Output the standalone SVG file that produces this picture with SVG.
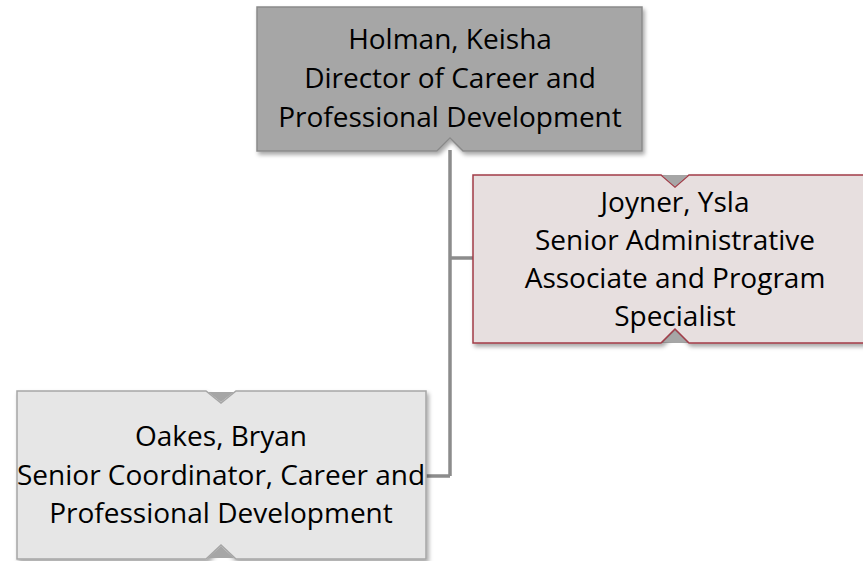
<svg xmlns="http://www.w3.org/2000/svg" width="863" height="561" viewBox="0 0 863 561">
<defs>
<filter id="sh" x="-5%" y="-5%" width="115%" height="120%">
<feDropShadow dx="2" dy="3" stdDeviation="2" flood-color="#000" flood-opacity="0.35"/>
</filter>
<style>
text{font-family:"Open Sans","Liberation Sans",sans-serif;font-size:28px;fill:#000;text-anchor:middle}
.conn{stroke:#8c8c8c;stroke-width:3.5;fill:none}
.notch{fill:#a6a6a6;stroke:none}
</style>
</defs>
<rect width="863" height="561" fill="#fff"/>
<g id="connectors">
<path class="conn" d="M450,150 V476 M450,258 H474 M450,476 H426"/>
</g>
<g id="holman">
<path filter="url(#sh)" d="M257,7 H642 V151 H463 L450,138 L437,151 H257 Z" fill="#a6a6a6" stroke="#8a8a8a" stroke-width="1.5"/>
<text x="450" y="48.5">Holman, Keisha</text>
<text x="450" y="87.5">Director of Career and</text>
<text x="450" y="126.5">Professional Development</text>
</g>
<g id="joyner">
<path class="notch" d="M662,175 L675,187 L688,175 Z"/>
<path class="notch" d="M661,343 L675,329 L689,343 Z"/>
<path filter="url(#sh)" d="M473,175 H661 L675,187 L689,175 H880 V343 H689 L675,329 L661,343 H473 Z" fill="#e7dfdf" stroke="#a23c48" stroke-width="1.5"/>
<path class="notch" d="M663,176 L675,186.5 L687,176 Z"/>
<path class="notch" d="M663,342.5 L675,330.5 L687,342.5 Z"/>
<text x="675" y="211.5">Joyner, Ysla</text>
<text x="675" y="249.5">Senior Administrative</text>
<text x="675" y="287.5">Associate and Program</text>
<text x="675" y="325.5">Specialist</text>
</g>
<g id="oakes">
<path filter="url(#sh)" d="M17,391 H206 L221,403 L236,391 H426 V559 H236 L221,545 L206,559 H17 Z" fill="#e6e6e6" stroke="#a6a6a6" stroke-width="1.5"/>
<path class="notch" d="M208,392 L221,402 L234,392 Z"/>
<path class="notch" d="M208,558 L221,546.5 L234,558 Z"/>
<text x="221" y="446">Oakes, Bryan</text>
<text x="221" y="484.5">Senior Coordinator, Career and</text>
<text x="221" y="522.5">Professional Development</text>
</g>
</svg>
